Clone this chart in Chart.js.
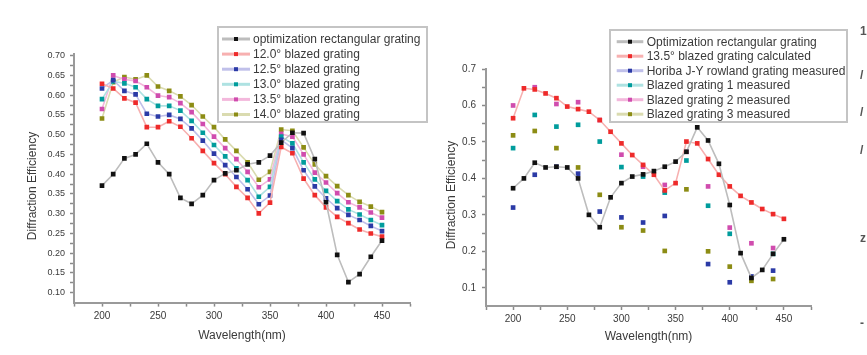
<!DOCTYPE html>
<html><head><meta charset="utf-8">
<script src="https://cdn.jsdelivr.net/npm/chart.js@4.4.0/dist/chart.umd.min.js"></script>
<style>
html,body{margin:0;padding:0;background:#fff;width:867px;height:355px;overflow:hidden;position:relative;}
#l{position:absolute;left:0;top:0;width:435px;height:355px;}
#r{position:absolute;left:435px;top:0;width:432px;height:355px;}
.frag{position:absolute;left:860px;font:bold 12px "Liberation Sans",Arial,sans-serif;color:#555;}
</style></head><body>
<div id="l"><canvas id="cl"></canvas></div>
<div id="r"><canvas id="cr"></canvas></div>
<div class="frag" style="top:24px">1</div>
<div class="frag" style="top:68px">/</div>
<div class="frag" style="top:105px">/</div>
<div class="frag" style="top:143px">/</div>
<div class="frag" style="top:231px">z</div>
<div class="frag" style="top:316px">-</div>
<script>
// ---------- LEFT CHART DATA ----------
const leftWavelengths = [200,210,220,230,240,250,260,270,280,290,300,310,320,330,340,350,360,370,380,390,400,410,420,430,440,450];
const leftRectangular = [0.371,0.400,0.440,0.450,0.477,0.430,0.400,0.340,0.325,0.347,0.385,0.402,0.410,0.425,0.430,0.447,0.480,0.505,0.504,0.438,0.329,0.196,0.127,0.147,0.191,0.232];
const leftBlazed120 = [0.629,0.617,0.592,0.581,0.519,0.519,0.534,0.520,0.491,0.459,0.428,0.400,0.368,0.340,0.301,0.328,0.469,0.453,0.389,0.347,0.316,0.292,0.276,0.260,0.250,0.242];
const leftBlazed125 = [0.617,0.638,0.611,0.602,0.553,0.546,0.550,0.540,0.516,0.485,0.452,0.423,0.393,0.362,0.324,0.346,0.487,0.466,0.410,0.369,0.339,0.314,0.297,0.284,0.269,0.256];
const leftBlazed130 = [0.590,0.635,0.630,0.620,0.590,0.573,0.573,0.561,0.535,0.505,0.474,0.445,0.415,0.385,0.343,0.368,0.495,0.478,0.430,0.387,0.358,0.332,0.311,0.298,0.284,0.271];
const leftBlazed135 = [0.565,0.650,0.640,0.636,0.620,0.599,0.595,0.580,0.557,0.527,0.495,0.466,0.438,0.406,0.367,0.387,0.502,0.495,0.450,0.404,0.379,0.352,0.329,0.316,0.303,0.290];
const leftBlazed140 = [0.541,0.633,0.646,0.640,0.650,0.622,0.611,0.597,0.575,0.546,0.519,0.488,0.459,0.430,0.386,0.406,0.513,0.510,0.468,0.425,0.395,0.370,0.347,0.330,0.318,0.304];
const leftSeriesNames = ["optimization rectangular grating","12.0\u00b0 blazed grating","12.5\u00b0 blazed grating","13.0\u00b0 blazed grating","13.5\u00b0 blazed grating","14.0\u00b0 blazed grating"];
const leftXTicks = [200,250,300,350,400,450];
const leftXMinorTicks = [175,225,275,325,375,425,475];
const leftYTicks = [0.10,0.15,0.20,0.25,0.30,0.35,0.40,0.45,0.50,0.55,0.60,0.65,0.70];
const leftYMinorTicks = [0.125,0.175,0.225,0.275,0.325,0.375,0.425,0.475,0.525,0.575,0.625,0.675];

// ---------- RIGHT CHART DATA ----------
const rightWavelengths = [200,210,220,230,240,250,260,270,280,290,300,310,320,330,340,350,360,370,380,390,400,410,420,430,440,450];
const rightRectangular = [0.373,0.400,0.443,0.430,0.432,0.430,0.400,0.300,0.266,0.348,0.387,0.405,0.411,0.420,0.432,0.446,0.473,0.540,0.504,0.440,0.327,0.195,0.127,0.149,0.193,0.233];
const rightBlazed135Calc = [0.565,0.647,0.644,0.633,0.620,0.597,0.590,0.583,0.560,0.528,0.496,0.464,0.437,0.410,0.367,0.387,0.501,0.496,0.453,0.410,0.378,0.352,0.334,0.316,0.302,0.289];
const measuredWavelengths = [200,220,240,260,280,300,320,340,360,380,400,420,440];
const horibaMeasured = [0.320,0.410,0.432,0.413,0.309,0.293,0.279,0.297,null,0.165,0.115,0.131,0.147];
const blazed1Measured = [0.483,0.574,0.542,0.547,0.501,0.431,0.405,0.361,0.449,0.325,0.248,null,0.193];
const blazed2Measured = [0.600,0.650,0.604,0.609,0.560,0.465,0.432,0.382,0.473,0.378,0.265,0.222,0.209];
const blazed3Measured = [0.518,0.530,0.483,0.430,0.355,0.266,0.257,0.201,0.370,0.200,0.158,0.119,0.124];
const rightSeriesNames = ["Optimization rectangular grating","13.5\u00b0 blazed grating calculated","Horiba J-Y rowland grating measured","Blazed grating 1 measured","Blazed grating 2 measured","Blazed grating 3 measured"];
const rightXTicks = [200,250,300,350,400,450];
const rightXMinorTicks = [175,225,275,325,375,425,475];
const rightYTicks = [0.1,0.2,0.3,0.4,0.5,0.6,0.7];
const rightYMinorTicks = [0.15,0.25,0.35,0.45,0.55,0.65];

// ---------- helpers ----------
const FAMILY = '"Liberation Sans", Arial, sans-serif';
const pts = (xs, ys) => xs.map((x,i)=>({x:x, y:ys[i]})).filter(p=>p.y!==null);

function lineDS(label, xs, ys, lineColor, markColor) {
  return {label, data: pts(xs, ys), showLine:true, borderColor:lineColor, borderWidth:1.6,
    backgroundColor:markColor, pointBackgroundColor:markColor, pointBorderColor:markColor,
    pointStyle:'rect', pointRadius:3.3, pointBorderWidth:0, tension:0, markColor};
}
function dotDS(label, xs, ys, lineColor, markColor) {
  const d = lineDS(label, xs, ys, lineColor, markColor);
  d.showLine = false;
  return d;
}
const isMajor = (arr, v) => arr.some(m => Math.abs(m - v) < 1e-9);

function xAxis(major, minor, min, max, height, tickPad, titlePadB, tickSize) {
  return {
    type:'linear', position:'bottom', min, max,
    afterBuildTicks: s => { s.ticks = major.concat(minor).sort((a,b)=>a-b).map(v=>({value:v})); },
    afterFit: s => { s.height = height; },
    ticks:{autoSkip:false, maxRotation:0, minRotation:0, padding:tickPad, color:'#3a3a3a',
      font:{family:FAMILY, size:tickSize},
      callback: v => isMajor(major, v) ? String(Math.round(v)) : ''},
    grid:{drawOnChartArea:false, drawTicks:true, tickLength:4, tickColor:'#8a8a8a', tickWidth:1.5},
    border:{display:true, color:'#9a9a9a', width:2},
    title:{display:true, text:'Wavelength(nm)', color:'#3a3a3a', font:{family:FAMILY, size:12},
      padding:{top:0, bottom:titlePadB}}
  };
}
function yAxis(major, minor, min, max, width, tickPad, decimals, tickSize) {
  return {
    type:'linear', position:'left', min, max,
    afterBuildTicks: s => { s.ticks = major.concat(minor).sort((a,b)=>a-b).map(v=>({value:v})); },
    afterFit: s => { s.width = width; },
    ticks:{autoSkip:false, padding:tickPad, color:'#3a3a3a', font:{family:FAMILY, size:tickSize},
      callback: v => isMajor(major, v) ? Number(v).toFixed(decimals) : ''},
    grid:{drawOnChartArea:false, drawTicks:true, tickLength:4, tickColor:'#8a8a8a', tickWidth:1.5},
    border:{display:true, color:'#9a9a9a', width:2},
    title:{display:false}
  };
}

// vertical axis title drawn at a fixed spot (the original sits a little below the axis centre)
const yTitle = {
  id:'yTitle',
  afterDraw(chart, args, o) {
    const ctx = chart.ctx;
    ctx.save();
    ctx.translate(o.x, o.y);
    ctx.rotate(-Math.PI/2);
    ctx.font = o.fontSize + 'px ' + FAMILY;
    ctx.fillStyle = '#3a3a3a';
    ctx.textAlign = 'center'; ctx.textBaseline = 'middle';
    ctx.fillText(o.text, 0, 0);
    ctx.restore();
  }
};

const boxLegend = {
  id:'boxLegend',
  afterDraw(chart, args, o) {
    const ctx = chart.ctx;
    ctx.save();
    ctx.fillStyle = '#fff';
    ctx.fillRect(o.x, o.y, o.w, o.h);
    ctx.strokeStyle = '#c4c4c4'; ctx.lineWidth = 2;
    ctx.strokeRect(o.x, o.y, o.w, o.h);
    ctx.font = o.fontSize + 'px ' + FAMILY;
    ctx.textBaseline = 'middle'; ctx.textAlign = 'left';
    chart.data.datasets.forEach((ds, i) => {
      const cy = o.y + o.first + i * o.row;
      ctx.strokeStyle = ds.borderColor; ctx.lineWidth = 3;
      ctx.beginPath(); ctx.moveTo(o.x + o.lx0, cy); ctx.lineTo(o.x + o.lx1, cy); ctx.stroke();
      ctx.fillStyle = ds.markColor;
      const mx = o.x + (o.lx0 + o.lx1) / 2;
      ctx.fillRect(mx - 2, cy - 2, 4, 4);
      ctx.fillStyle = '#3a3a3a';
      ctx.fillText(ds.label, o.x + o.tx, cy + 0.5);
    });
    ctx.restore();
  }
};

const COL = {
  blackL:'#bdbdbd', black:'#111111',
  redL:'#f7b0b0', red:'#ee2a2a',
  blueL:'#c0c0ea', blue:'#2b3aa6',
  tealL:'#aee2e2', teal:'#009c9c',
  pinkL:'#f3b8dc', pink:'#d04cae',
  oliveL:'#dadbb0', olive:'#8c8c14'
};

new Chart(document.getElementById('cl'), {
  type:'scatter',
  data:{datasets:[
    lineDS(leftSeriesNames[0], leftWavelengths, leftRectangular, COL.blackL, COL.black),
    lineDS(leftSeriesNames[1], leftWavelengths, leftBlazed120, COL.redL, COL.red),
    lineDS(leftSeriesNames[2], leftWavelengths, leftBlazed125, COL.blueL, COL.blue),
    lineDS(leftSeriesNames[3], leftWavelengths, leftBlazed130, COL.tealL, COL.teal),
    lineDS(leftSeriesNames[4], leftWavelengths, leftBlazed135, COL.pinkL, COL.pink),
    lineDS(leftSeriesNames[5], leftWavelengths, leftBlazed140, COL.oliveL, COL.olive)
  ]},
  options:{
    responsive:true, maintainAspectRatio:false, animation:false, devicePixelRatio:1,
    layout:{padding:{left:0, right:25, top:53.7, bottom:0}},
    scales:{
      x: xAxis(leftXTicks, leftXMinorTicks, 175, 475, 52.4, 4, 12.3, 10),
      y: yAxis(leftYTicks, leftYMinorTicks, 0.075, 0.705, 74, 5, 2, 9)
    },
    plugins:{legend:{display:false}, tooltip:{enabled:false},
      yTitle:{x:33, y:186, text:'Diffraction Efficiency', fontSize:12},
      boxLegend:{x:218, y:27, w:209, h:95, first:12, row:15.1, lx0:4, lx1:32, tx:35, fontSize:12}}
  },
  plugins:[yTitle, boxLegend]
});

new Chart(document.getElementById('cr'), {
  type:'scatter',
  data:{datasets:[
    lineDS(rightSeriesNames[0], rightWavelengths, rightRectangular, COL.blackL, COL.black),
    lineDS(rightSeriesNames[1], rightWavelengths, rightBlazed135Calc, COL.redL, COL.red),
    dotDS(rightSeriesNames[2], measuredWavelengths, horibaMeasured, COL.blueL, COL.blue),
    dotDS(rightSeriesNames[3], measuredWavelengths, blazed1Measured, COL.tealL, COL.teal),
    dotDS(rightSeriesNames[4], measuredWavelengths, blazed2Measured, COL.pinkL, COL.pink),
    dotDS(rightSeriesNames[5], measuredWavelengths, blazed3Measured, COL.oliveL, COL.olive)
  ]},
  options:{
    responsive:true, maintainAspectRatio:false, animation:false, devicePixelRatio:1,
    layout:{padding:{left:0, right:56, top:69, bottom:0}},
    scales:{
      x: xAxis(rightXTicks, rightXMinorTicks, 175, 475, 49, 3.3, 11.1, 10),
      y: yAxis(rightYTicks, rightYMinorTicks, 0.05, 0.70, 51, 6, 1, 10)
    },
    plugins:{legend:{display:false}, tooltip:{enabled:false},
      yTitle:{x:16.5, y:195, text:'Diffraction Efficiency', fontSize:12},
      boxLegend:{x:175, y:30, w:237, h:92, first:11.7, row:14.5, lx0:6.7, lx1:33.3, tx:36.7, fontSize:12}}
  },
  plugins:[yTitle, boxLegend]
});
</script>
</body></html>
